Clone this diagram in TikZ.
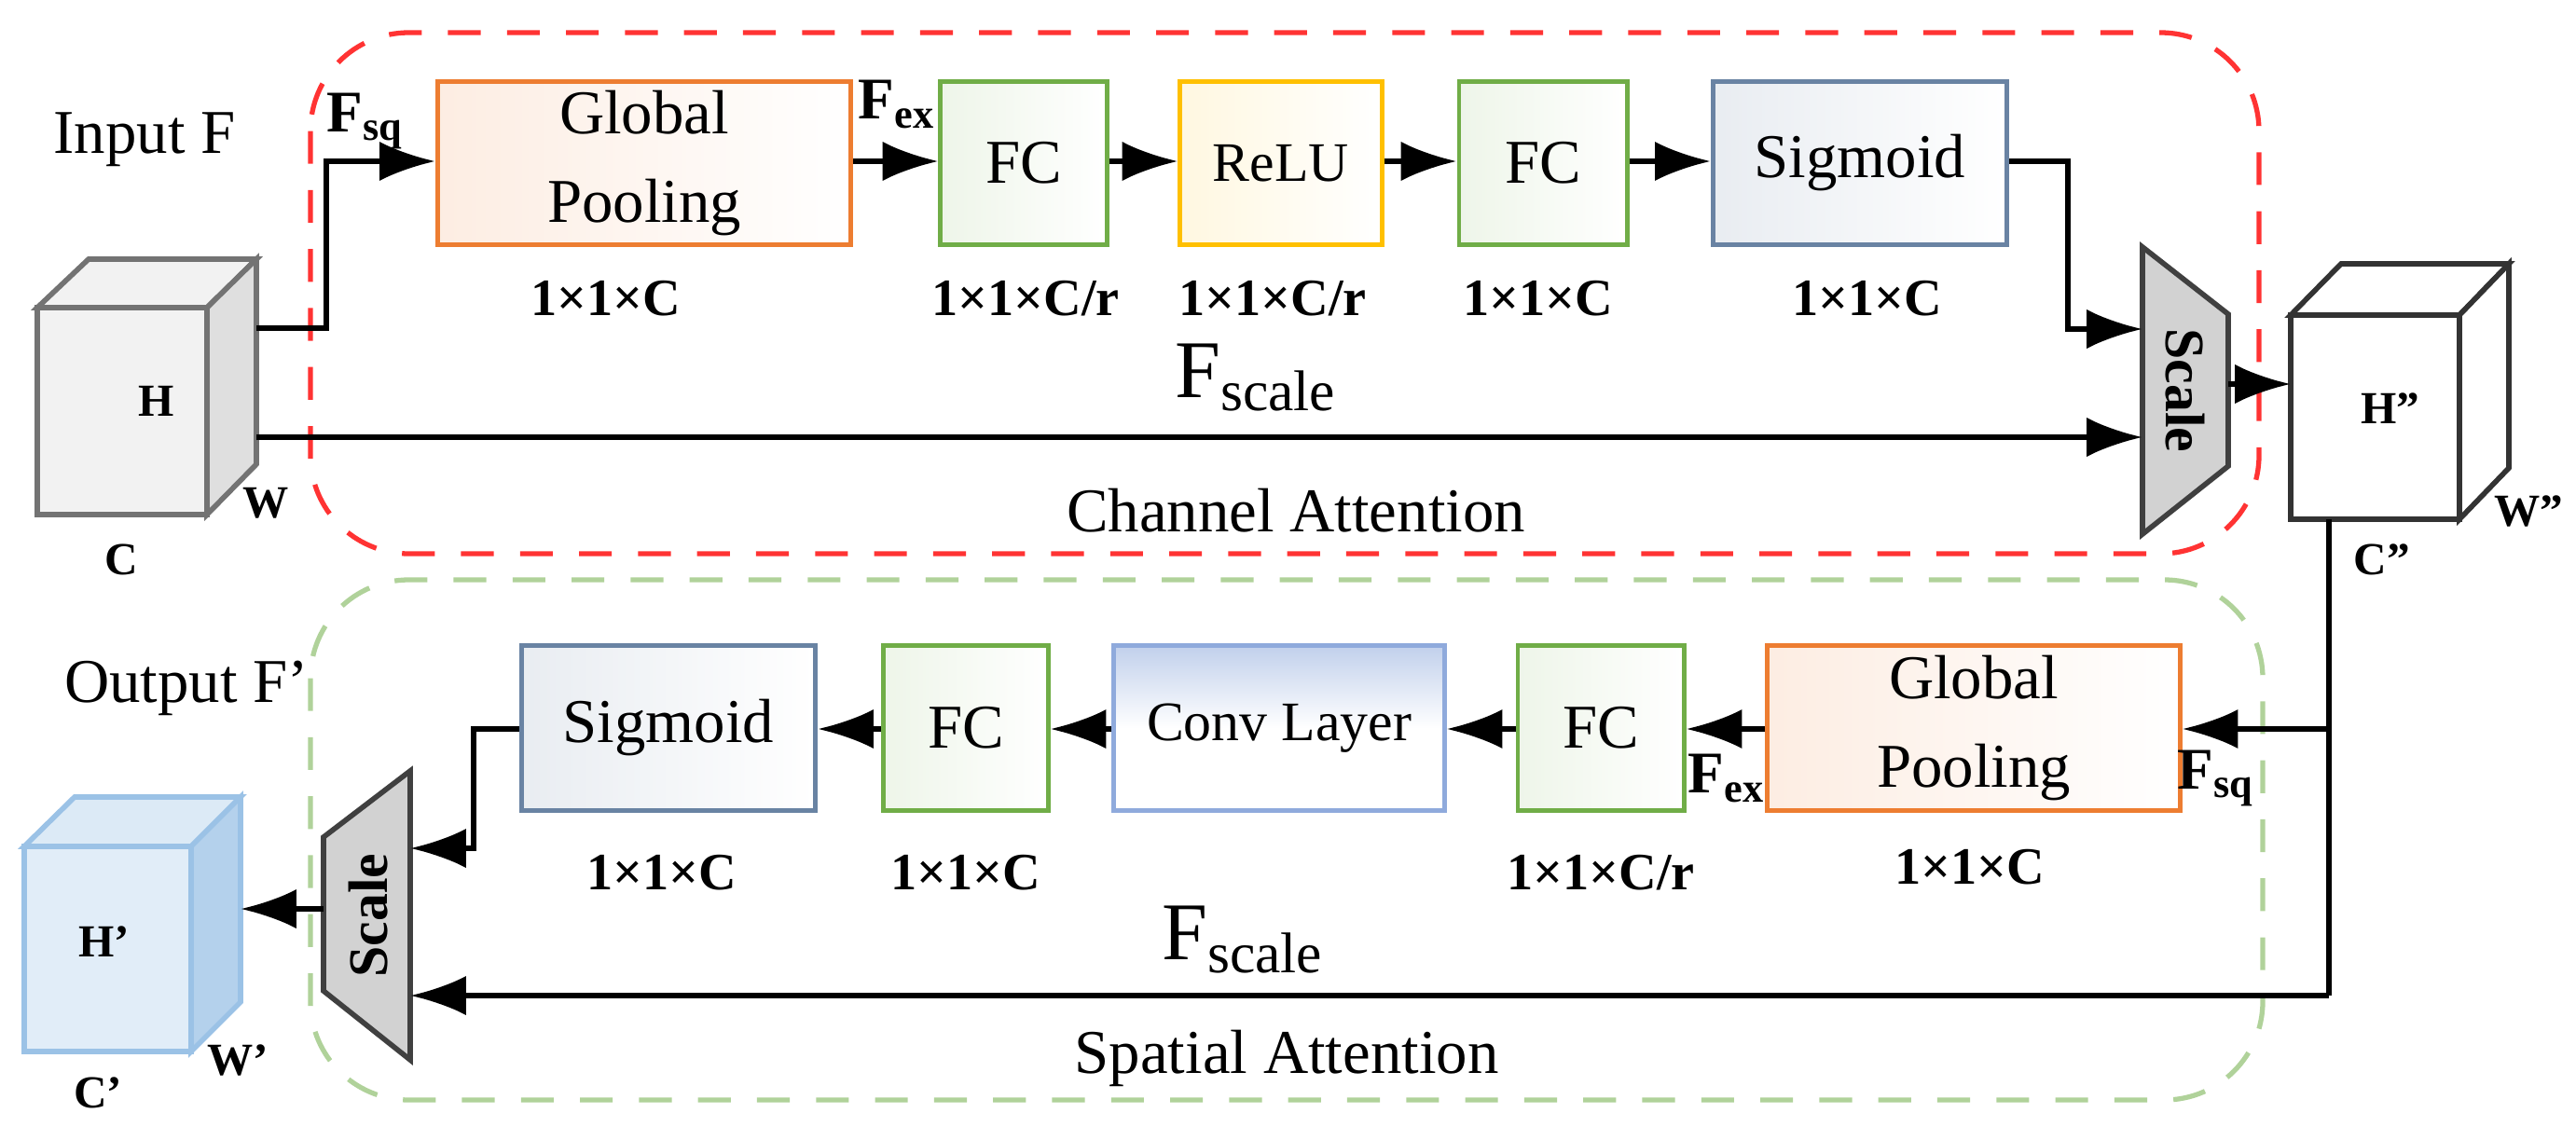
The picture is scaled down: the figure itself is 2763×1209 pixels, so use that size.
\documentclass[tikz,border=0pt]{standalone}
\usepackage{fontspec}
\setmainfont{Liberation Serif}
\usetikzlibrary{arrows.meta}
\definecolor{gpO}{RGB}{237,125,49}
\definecolor{fcG}{RGB}{112,173,71}
\definecolor{reY}{RGB}{255,192,0}
\definecolor{sgB}{RGB}{68,100,140}
\definecolor{cvB}{RGB}{143,170,220}
\definecolor{cubeB}{RGB}{155,194,230}
\tikzset{
 box/.style={draw, line width=1.4pt, inner sep=0pt, align=center, font=\fontsize{19}{27}\selectfont},
 lab/.style={font=\bfseries\fontsize{16}{18}\selectfont},
 arr/.style={line width=1.6pt, -{Latex[length=17pt,width=12pt]}},
 ln/.style={line width=1.6pt},
 big/.style={font=\fontsize{19}{22}\selectfont},
 small/.style={font=\bfseries\fontsize{14}{16}\selectfont},
 fsub/.style={font=\bfseries\fontsize{18}{20}\selectfont},
 fbig/.style={font=\fontsize{25}{28}\selectfont},
 scl/.style={font=\bfseries\fontsize{17}{19}\selectfont},
}
\begin{document}
\begin{tikzpicture}[x=0.01cm,y=-0.01cm]
\useasboundingbox (0,0) rectangle (2763,1209);
% dashed regions
\draw[red!80, dash pattern=on 10pt off 8pt, line width=1.5pt, rounded corners=30] (333,35) rectangle (2423,594);
\draw[fcG!55, dash pattern=on 10pt off 8pt, line width=1.5pt, rounded corners=30] (333,622) rectangle (2427,1180);
% input cube
\draw[gray!90!black, line width=1.6pt, fill=gray!10] (40,330) -- (95,278) -- (275,278) -- (222,330) -- cycle;
\draw[gray!90!black, line width=1.6pt, fill=gray!25] (222,330) -- (275,278) -- (275,498) -- (222,552) -- cycle;
\draw[gray!90!black, line width=1.6pt, fill=gray!10] (40,330) rectangle (222,552);
\node[small] (inH) at (168,430) {H};
\node[small] (inW) at (285,540) {W};
\node[small] (inC) at (130,600) {C};
\node[big] (inF) at (155,150) {Input F};
\coordinate (inA) at (275,352);
\coordinate (inB) at (275,469);
% top boxes
\node[box, draw=gpO, left color=gpO!14, right color=white, minimum width=4.43cm, minimum height=1.75cm] (gp1) at (691,175) {Global\\Pooling};
\node[box, draw=fcG, left color=fcG!12, right color=white, minimum width=1.78cm, minimum height=1.75cm] (fc1) at (1098,175) {FC};
\node[box, draw=reY, left color=reY!12, right color=white, minimum width=2.16cm, minimum height=1.75cm, font=\fontsize{17}{20}\selectfont] (relu) at (1374,175) {ReLU};
\node[box, draw=fcG, left color=fcG!12, right color=white, minimum width=1.8cm, minimum height=1.75cm] (fc2) at (1655,175) {FC};
\node[box, draw=sgB!80, left color=sgB!12, right color=white, minimum width=3.15cm, minimum height=1.75cm] (sg1) at (1995,175) {Sigmoid};
\node[lab] at (650,320) {1×1×C};
\node[lab] at (1100,320) {1×1×C/r};
\node[lab] at (1365,320) {1×1×C/r};
\node[lab] at (1650,320) {1×1×C};
\node[lab] at (2003,320) {1×1×C};
\node[fsub] at (392,130) {F\textsubscript{sq}};
\node[fsub] at (962,112) {F\textsubscript{ex}};
% top scale
\draw[black!75, line width=1.6pt, fill=gray!35] (2298,265) -- (2390,337) -- (2390,500) -- (2298,573) -- cycle;
\node[rotate=-90, scl] (sc1) at (2344,419) {Scale};
\coordinate (sc1a) at (2298,353);
\coordinate (sc1b) at (2298,469);
\coordinate (sc1o) at (2390,412);
% top connectors
\draw[arr] (inA) -| (350,173) -- (gp1.west |- 0,173);
\draw[arr] (gp1.east |- 0,173) -- (fc1.west |- 0,173);
\draw[arr] (fc1.east |- 0,173) -- (relu.west |- 0,173);
\draw[arr] (relu.east |- 0,173) -- (fc2.west |- 0,173);
\draw[arr] (fc2.east |- 0,173) -- (sg1.west |- 0,173);
\draw[arr] (sg1.east |- 0,173) -| (2218,353) -- (sc1a);
\draw[arr] (inB) -- (sc1b);
\node[fbig] at (1347,405) {F\textsubscript{scale}};
\node[big] at (1390,548) {Channel Attention};
% mid cube
\draw[black!80, line width=1.6pt, fill=white] (2457,338) -- (2511,283) -- (2691,283) -- (2638,338) -- cycle;
\draw[black!80, line width=1.6pt, fill=white] (2638,338) -- (2691,283) -- (2691,502) -- (2638,557) -- cycle;
\draw[black!80, line width=1.6pt, fill=white] (2457,338) rectangle (2638,557);
\node[small] (mH) at (2564,438) {H"};
\node[small] (mW) at (2712,548) {W"};
\node[small] (mC) at (2555,600) {C"};
\coordinate (mIn) at (2457,412);
\coordinate (mOut) at (2498,557);
\draw[arr] (sc1o) -- (mIn);
% bottom boxes
\node[box, draw=gpO, left color=gpO!14, right color=white, minimum width=4.42cm, minimum height=1.76cm] (gp2) at (2117,781) {Global\\Pooling};
\node[box, draw=fcG, left color=fcG!12, right color=white, minimum width=1.78cm, minimum height=1.76cm] (fc3) at (1717,781) {FC};
\node[box, draw=cvB, top color=cvB!55, bottom color=white, middle color=white, minimum width=3.54cm, minimum height=1.76cm, font=\fontsize{17}{20}\selectfont] (conv) at (1372,781) {Conv Layer};
\node[box, draw=fcG, left color=fcG!12, right color=white, minimum width=1.76cm, minimum height=1.76cm] (fc4) at (1036,781) {FC};
\node[box, draw=sgB!80, left color=sgB!12, right color=white, minimum width=3.15cm, minimum height=1.76cm] (sg2) at (717,781) {Sigmoid};
\node[lab] at (710,936) {1×1×C};
\node[lab] at (1036,936) {1×1×C};
\node[lab] at (1717,936) {1×1×C/r};
\node[lab] at (2113,930) {1×1×C};
\node[fsub] at (2377,835) {F\textsubscript{sq}};
\node[fsub] at (1852,835) {F\textsubscript{ex}};
% bottom scale
\draw[black!75, line width=1.6pt, fill=gray!35] (440,827) -- (347,898) -- (347,1063) -- (440,1137) -- cycle;
\node[rotate=90, scl] (sc2) at (395,982) {Scale};
\coordinate (sc2a) at (440,910);
\coordinate (sc2b) at (440,1068);
\coordinate (sc2o) at (347,975);
% output cube
\draw[cubeB, line width=1.6pt, fill=cubeB!35] (26,908) -- (80,855) -- (258,855) -- (205,908) -- cycle;
\draw[cubeB, line width=1.6pt, fill=cubeB!75] (205,908) -- (258,855) -- (258,1075) -- (205,1128) -- cycle;
\draw[cubeB, line width=1.6pt, fill=cubeB!30] (26,908) rectangle (205,1128);
\node[small] (oH) at (112,1010) {H'};
\node[small] (oW) at (255,1137) {W'};
\node[small] (oC) at (105,1172) {C'};
\coordinate (oIn) at (258,975);
\node[big] (outF) at (200,738) {Output F'};
% bottom connectors
\draw[ln] (mOut) -- (2498,1068);
\draw[arr] (2498,782) -- (gp2.east |- 0,782);
\draw[arr] (gp2.west |- 0,782) -- (fc3.east |- 0,782);
\draw[arr] (fc3.west |- 0,782) -- (conv.east |- 0,782);
\draw[arr] (conv.west |- 0,782) -- (fc4.east |- 0,782);
\draw[arr] (fc4.west |- 0,782) -- (sg2.east |- 0,782);
\draw[arr] (sg2.west |- 0,782) -| (508,910) -- (sc2a);
\draw[arr] (2498,1068) -- (sc2b);
\draw[arr] (sc2o) -- (oIn);
\node[fbig] at (1333,1008) {F\textsubscript{scale}};
\node[big] at (1380,1135) {Spatial Attention};
\end{tikzpicture}
\end{document}
